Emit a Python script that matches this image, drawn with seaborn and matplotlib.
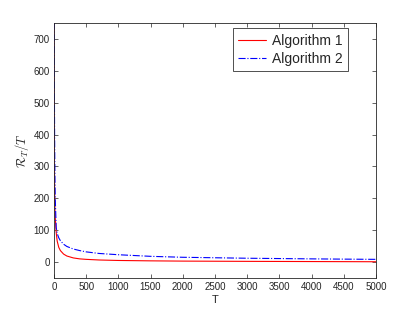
import seaborn as sns
import matplotlib.pyplot as plt
import pandas as pd

# values (R_T / T against T)
T = [1, 3, 5, 10, 15, 20, 35, 50, 75, 100, 150, 200, 300, 400, 500, 700,
     1000, 1500, 2000, 2500, 3000, 3500, 4000, 4500, 5000]
alg1 = [900, 560, 420, 230, 165, 140, 92, 66, 46, 36, 25, 19, 13, 10, 8.5, 6.5,
        5, 3.8, 3, 2.6, 2.2, 1.9, 1.6, 1.3, 1.0]
alg2 = [950, 780, 620, 400, 270, 200, 108, 90, 76, 67, 56, 49, 41, 36, 32, 27,
        23, 18, 15, 13.5, 12, 11, 10, 9.2, 8.5]
labels = ['Algorithm 1', 'Algorithm 2']

df = pd.DataFrame({'T': T, labels[0]: alg1, labels[1]: alg2})

sns.set_style('white')
plt.rcParams['font.family'] = ['Liberation Sans', 'DejaVu Sans']
plt.rcParams['mathtext.fontset'] = 'cm'

fig = plt.figure(figsize=(4.15, 3.12), dpi=100)
ax = fig.add_axes([0.130, 0.109, 0.776, 0.817])

sns.lineplot(data=df, x='T', y=labels[0], ax=ax, color='#ff0000', lw=0.8,
             label=labels[0])
sns.lineplot(data=df, x='T', y=labels[1], ax=ax, color='#0000ff', lw=0.8,
             linestyle='-.', label=labels[1])

ax.set_xlim(0, 5000)
ax.set_ylim(-50, 750)
ax.set_xticks(range(0, 5001, 500))
ax.set_yticks(range(0, 701, 100))
ax.set_xlabel('T', fontsize=8, color='0.15', labelpad=2)
ax.set_ylabel(r'$\mathcal{R}_T/T$', fontsize=9, color='0.15', labelpad=2)

ax.tick_params(direction='in', length=3, width=0.5, bottom=True, left=True,
               top=True, right=True, labelsize=7, labelcolor='0.15',
               color='0.15', pad=3)
for s in ax.spines.values():
    s.set_color('0.15')
    s.set_linewidth(0.6)

leg = ax.legend(loc='upper right', bbox_to_anchor=(0.913, 0.98),
                fontsize=10, handlelength=2.0, frameon=True, fancybox=False,
                borderaxespad=0, borderpad=0.4, labelspacing=0.3,
                handletextpad=0.4)
leg.get_frame().set_edgecolor('black')
leg.get_frame().set_linewidth(0.6)

fig.savefig('out.png', dpi=100)
